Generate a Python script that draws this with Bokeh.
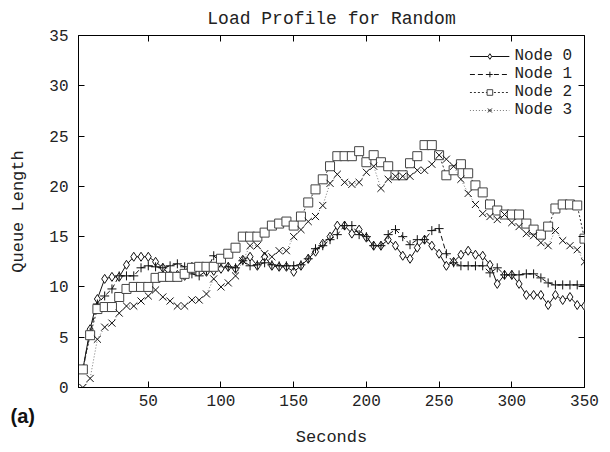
from bokeh.plotting import figure
from bokeh.models import Range1d, FixedTicker, LinearAxis, Legend, LegendItem, Title
from bokeh.embed import file_html
from bokeh.resources import INLINE

seconds = list(range(5, 351, 5))
node0 = [1.8, 5.8, 8.8, 10.8, 11.0, 11.0, 12.2, 13.0, 13.0, 13.0,
         12.5, 11.9, 11.2, 11.2, 11.1, 12.0, 12.0, 11.5, 11.6, 11.8,
         12.0, 11.8, 12.7, 13.0, 12.1, 13.0, 12.1, 12.0, 12.0, 11.5,
         12.1, 12.8, 13.5, 14.3, 15.0, 16.1, 16.1, 15.3, 15.7, 14.9,
         14.1, 14.1, 14.7, 14.1, 13.1, 12.8, 13.9, 14.7, 14.1, 13.3,
         12.1, 12.5, 13.2, 13.6, 13.2, 13.1, 12.2, 10.3, 11.2, 11.2,
         10.3, 9.2, 9.2, 9.2, 8.2, 9.2, 8.7, 9.0, 8.2, 8.1]
node1 = [1.8, 5.5, 8.3, 9.1, 9.8, 11.1, 11.1, 11.1, 11.9, 12.1,
         12.0, 11.9, 12.1, 12.3, 12.0, 11.3, 11.1, 11.6, 13.1, 12.4,
         12.0, 11.9, 12.6, 12.1, 12.2, 12.4, 12.2, 12.1, 12.1, 12.1,
         12.2, 12.8, 13.8, 14.1, 14.7, 15.2, 16.1, 16.1, 15.2, 15.0,
         14.1, 14.1, 15.2, 15.7, 15.0, 14.2, 14.7, 14.7, 15.6, 15.8,
         13.3, 12.4, 12.1, 12.1, 12.1, 12.1, 11.4, 11.9, 11.2, 11.2,
         11.2, 11.3, 11.3, 10.9, 10.4, 10.2, 10.2, 10.2, 10.2, 10.2]
node2 = [1.8, 5.2, 7.8, 8.0, 8.0, 9.0, 9.8, 10.0, 10.0, 10.0,
         10.9, 11.0, 11.0, 11.0, 11.3, 11.9, 12.0, 12.0, 12.0, 12.8,
         13.3, 13.9, 15.0, 15.0, 15.0, 15.4, 16.1, 16.3, 16.5, 16.1,
         17.0, 18.4, 19.7, 20.7, 22.0, 23.0, 23.0, 23.0, 23.5, 22.4,
         23.1, 22.4, 22.0, 21.1, 21.1, 22.3, 23.0, 24.1, 24.1, 23.1,
         21.1, 21.6, 22.2, 21.3, 20.1, 19.4, 18.2, 17.6, 17.2, 17.2,
         17.2, 16.3, 15.7, 15.2, 16.0, 17.8, 18.2, 18.2, 18.1, 14.8]
node3 = [0.0, 0.9, 4.8, 6.0, 6.4, 7.4, 8.1, 8.1, 8.6, 9.1,
         9.7, 9.0, 8.6, 8.1, 8.1, 8.7, 8.7, 9.3, 10.8, 10.0,
         10.4, 11.1, 12.6, 14.1, 14.1, 13.3, 13.0, 13.6, 13.6, 15.0,
         15.7, 16.5, 17.0, 18.1, 20.3, 21.2, 20.4, 20.2, 20.4, 21.4,
         22.0, 19.8, 20.7, 21.0, 21.0, 21.0, 21.6, 21.6, 22.2, 23.1,
         22.7, 22.0, 20.7, 19.3, 18.2, 17.3, 17.0, 16.7, 17.2, 16.4,
         16.0, 15.3, 15.1, 14.4, 14.1, 15.6, 14.6, 14.1, 13.7, 12.5]
labels = ["Node 0", "Node 1", "Node 2", "Node 3"]
x_ticks = [50, 100, 150, 200, 250, 300, 350]
y_ticks = [0, 5, 10, 15, 20, 25, 30, 35]

FONT = "Liberation Mono"

p = figure(width=610, height=452, x_range=Range1d(2, 350), y_range=Range1d(0, 35),
           output_backend="svg", toolbar_location=None,
           min_border_left=78, min_border_right=26, min_border_top=35, min_border_bottom=65,
           title="Load Profile for Random")
p.title.text_font = FONT
p.title.text_font_size = "18px"
p.title.text_font_style = "normal"
p.title.text_color = "#222"
p.title.align = "center"
p.title.vertical_align = "top"
p.title.standoff = 10
p.xgrid.visible = False
p.ygrid.visible = False
p.outline_line_color = "black"
p.outline_line_width = 1
p.background_fill_color = "white"
p.border_fill_color = "white"

for ax in (p.xaxis[0], p.yaxis[0]):
    ax.major_tick_in = 6
    ax.major_tick_out = 0
    ax.minor_tick_line_color = None
    ax.axis_line_color = "black"
    ax.major_tick_line_color = "black"
    ax.major_label_text_font = FONT
    ax.major_label_text_font_size = "16px"
    ax.major_label_text_color = "#222"
    ax.axis_label_text_font = FONT
    ax.axis_label_text_font_size = "17px"
    ax.axis_label_text_font_style = "normal"
    ax.axis_label_text_color = "#222"

p.xaxis[0].ticker = FixedTicker(ticks=x_ticks)
p.yaxis[0].ticker = FixedTicker(ticks=y_ticks)
p.yaxis[0].axis_label = "Queue Length"
p.xaxis[0].major_label_standoff = 7
p.yaxis[0].major_label_standoff = 10
p.yaxis[0].axis_label_standoff = 18

for side, tick_list in (("right", y_ticks), ("above", x_ticks)):
    ax = LinearAxis(ticker=FixedTicker(ticks=tick_list))
    ax.major_tick_in = 6
    ax.major_tick_out = 0
    ax.minor_tick_line_color = None
    ax.axis_line_color = None
    ax.major_tick_line_color = "black"
    ax.major_label_text_font_size = "1px"
    ax.major_label_text_color = None
    ax.major_label_text_alpha = 0
    ax.major_label_standoff = 0
    p.add_layout(ax, side)

# "(a)" tag and the x-axis title, stacked under the tick labels
tag = Title(text="(a)", align="left", offset=-68, standoff=-10, vertical_align="middle",
            text_font="Liberation Sans", text_font_style="bold",
            text_font_size="20px", text_color="#111")
p.add_layout(tag, "below")
xlab = Title(text="Seconds", align="center", standoff=7,
             text_font=FONT, text_font_style="normal",
             text_font_size="17px", text_color="#222")
p.add_layout(xlab, "below")

series = [node0, node1, node2, node3]
styles = [
    dict(color="#111111", dash="solid", marker="diamond", size=9, mcolor="#111111"),
    dict(color="#111111", dash="5 3", marker="cross", size=9, mcolor="#111111"),
    dict(color="#333333", dash="2 2", marker="square", size=9, mcolor="#444444"),
    dict(color="#777777", dash="1 2", marker="x", size=10, mcolor="#111111"),
]
items = []
for vals, lab, st in zip(series, labels, styles):
    ln = p.line(seconds, vals, line_color=st["color"], line_dash=st["dash"], line_width=1)
    sc = p.scatter(seconds, vals, marker=st["marker"], size=st["size"],
                   line_color=st["mcolor"], fill_color="white", line_width=1)
    items.append(LegendItem(label=lab, renderers=[ln, sc]))

legend = Legend(items=items, location="top_right")
legend.label_text_font = FONT
legend.label_text_font_size = "16px"
legend.label_text_color = "#222"
legend.border_line_color = None
legend.background_fill_alpha = 0
legend.glyph_width = 40
legend.glyph_height = 14
legend.spacing = 0
legend.padding = 4
legend.margin = 12
legend.label_height = 14
p.add_layout(legend)

open("out.html", "w").write(file_html(p, INLINE))
